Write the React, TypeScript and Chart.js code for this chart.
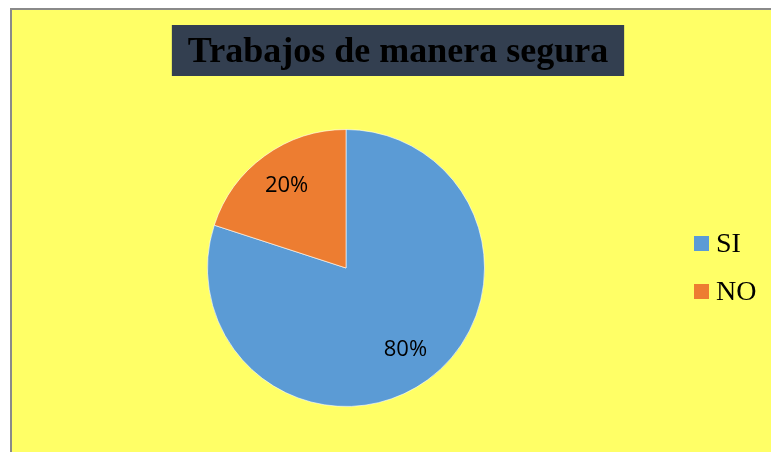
import React, { useEffect, useRef } from "react";
import { Chart, registerables } from "chart.js";

Chart.register(...registerables);

const TITLE = "Trabajos de manera segura";
const categories = ["SI", "NO"];
const values = [80, 20];
const labelsPct = ["80%", "20%"];
const colors = ["#5B9BD5", "#ED7D31"];

const W = 759;
const H = 442;

const decorPlugin = {
  id: "decor",
  afterDraw(chart: any) {
    const ctx = chart.ctx as CanvasRenderingContext2D;
    ctx.save();
    // title box
    ctx.font = "bold 36px 'Liberation Serif', 'Times New Roman', serif";
    const tw = ctx.measureText(TITLE).width;
    const cx = 386;
    const bw = tw + 32;
    ctx.fillStyle = "#333F50";
    ctx.fillRect(cx - bw / 2, 15, bw, 51);
    ctx.fillStyle = "#000000";
    ctx.textAlign = "center";
    ctx.textBaseline = "alphabetic";
    ctx.fillText(TITLE, cx, 52);

    // data labels
    const meta = chart.getDatasetMeta(0);
    ctx.font = "22px 'Open Sans', 'Liberation Sans', sans-serif";
    ctx.textBaseline = "middle";
    meta.data.forEach((arc: any, i: number) => {
      const p = arc.getProps(["x", "y", "startAngle", "endAngle", "outerRadius"], true);
      const mid = (p.startAngle + p.endAngle) / 2;
      const r = p.outerRadius * 0.73;
      ctx.fillStyle = "#000000";
      ctx.fillText(labelsPct[i], p.x + Math.cos(mid) * r, p.y + Math.sin(mid) * r);
    });

    // legend
    ctx.font = "28px 'Liberation Serif', 'Times New Roman', serif";
    ctx.textAlign = "left";
    ctx.textBaseline = "alphabetic";
    categories.forEach((c, i) => {
      const y = 226 + i * 48;
      ctx.fillStyle = colors[i];
      ctx.fillRect(682, y, 15, 15);
      ctx.fillStyle = "#000000";
      ctx.fillText(c, 704, y + 16);
    });
    ctx.restore();
  },
};

export default function App() {
  const ref = useRef<HTMLCanvasElement>(null);
  useEffect(() => {
    if (!ref.current) return;
    const chart = new Chart(ref.current, {
      type: "pie",
      data: {
        labels: categories,
        datasets: [
          {
            data: values,
            backgroundColor: colors,
            borderColor: "rgba(255,255,255,0.6)",
            borderWidth: 1,
          },
        ],
      },
      options: {
        responsive: false,
        animation: false,
        layout: { padding: { left: 195, right: 286, top: 119, bottom: 45 } },
        plugins: {
          legend: { display: false },
          title: { display: false },
          tooltip: { enabled: false },
        },
      },
      plugins: [decorPlugin],
    });
    return () => chart.destroy();
  }, []);
  return (
    <div
      style={{
        position: "absolute",
        left: 10,
        top: 8,
        width: W,
        height: H,
        borderLeft: "2px solid #8a8a8a",
        borderTop: "2px solid #8a8a8a",
        background: "#FFFF66",
      }}
    >
      <canvas ref={ref} width={W} height={H} style={{ display: "block", width: W, height: H }} />
    </div>
  );
}
